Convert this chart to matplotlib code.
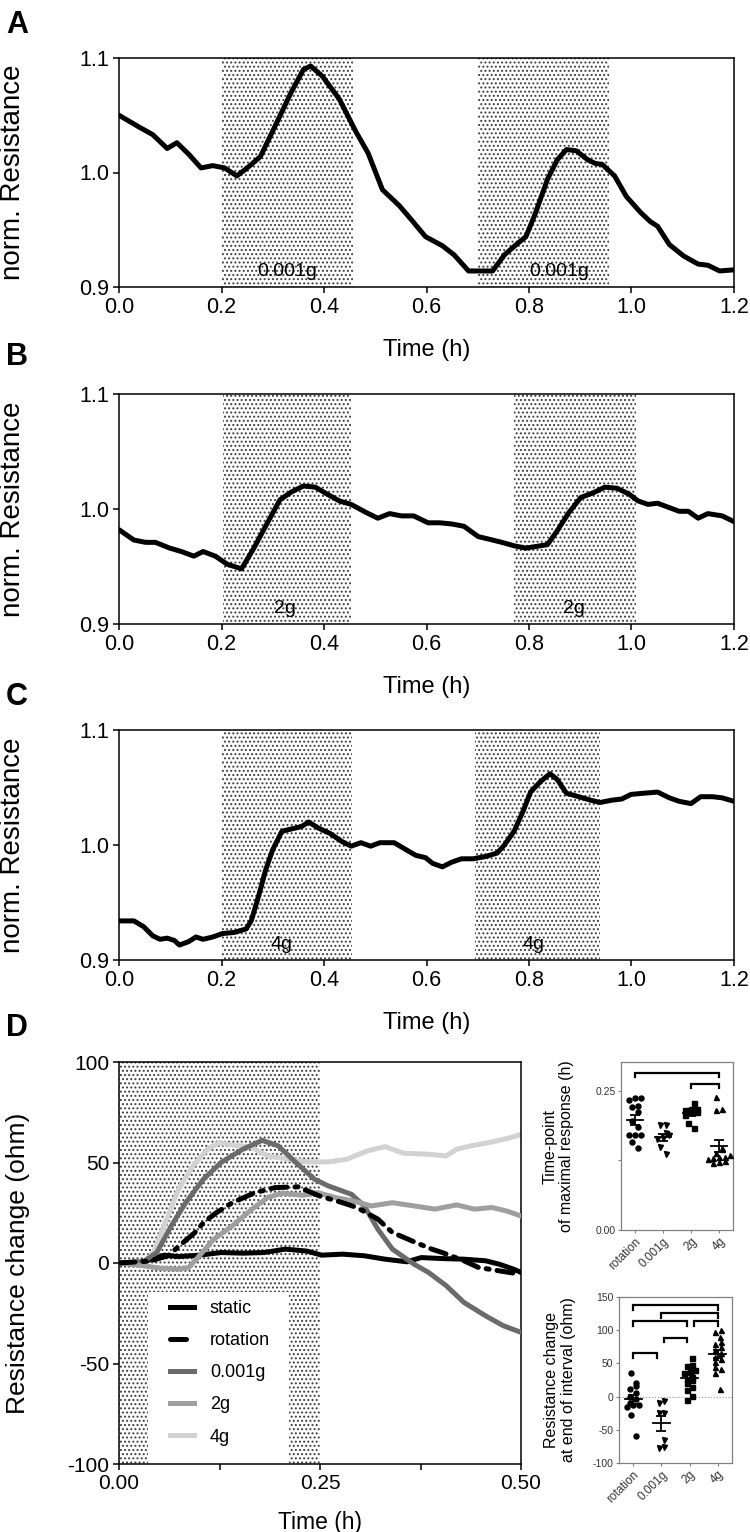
import numpy as np
import matplotlib
matplotlib.use('Agg')
import matplotlib.pyplot as plt
from matplotlib.patches import Rectangle

plt.rcParams['font.family'] = ['Liberation Sans', 'DejaVu Sans']
plt.rcParams['axes.unicode_minus'] = False
plt.rcParams['hatch.linewidth'] = 0.9
NARROW = ['Liberation Sans Narrow', 'Liberation Sans', 'DejaVu Sans']

# ---------------- Panel A-C data ----------------
tA = [0.0, 0.038, 0.066, 0.094, 0.113, 0.136, 0.16, 0.183, 0.206, 0.23, 0.253, 0.276, 0.304, 0.337, 0.36,
      0.374, 0.397, 0.43, 0.463, 0.486, 0.514, 0.547, 0.57, 0.598, 0.631, 0.654, 0.682, 0.701, 0.729, 0.752,
      0.775, 0.794, 0.813, 0.836, 0.855, 0.873, 0.892, 0.915, 0.929, 0.943, 0.967, 0.99, 1.018, 1.037, 1.051,
      1.074, 1.102, 1.13, 1.149, 1.172, 1.2]
rA = [1.050, 1.040, 1.033, 1.021, 1.026, 1.016, 1.004, 1.006, 1.004, 0.997, 1.005, 1.014, 1.040, 1.071, 1.090,
      1.093, 1.084, 1.064, 1.035, 1.017, 0.985, 0.971, 0.959, 0.944, 0.936, 0.928, 0.914, 0.914, 0.914, 0.928,
      0.937, 0.944, 0.965, 0.994, 1.011, 1.020, 1.019, 1.011, 1.008, 1.007, 0.997, 0.979, 0.965, 0.957, 0.953,
      0.937, 0.927, 0.920, 0.919, 0.914, 0.915]

tB = [0.0, 0.029, 0.052, 0.071, 0.099, 0.122, 0.146, 0.164, 0.188, 0.211, 0.239, 0.262, 0.286, 0.314, 0.337,
      0.36, 0.383, 0.406, 0.43, 0.453, 0.482, 0.505, 0.528, 0.551, 0.575, 0.603, 0.626, 0.649, 0.673, 0.701,
      0.729, 0.747, 0.771, 0.794, 0.836, 0.855, 0.878, 0.901, 0.925, 0.948, 0.972, 0.995, 1.013, 1.032, 1.051,
      1.069, 1.093, 1.111, 1.13, 1.149, 1.177, 1.2]
rB = [0.982, 0.973, 0.971, 0.971, 0.966, 0.963, 0.959, 0.963, 0.959, 0.952, 0.948, 0.965, 0.985, 1.008, 1.015,
      1.020, 1.019, 1.013, 1.007, 1.004, 0.997, 0.992, 0.996, 0.994, 0.994, 0.988, 0.988, 0.987, 0.985, 0.976,
      0.973, 0.971, 0.968, 0.966, 0.969, 0.981, 0.997, 1.010, 1.014, 1.019, 1.018, 1.013, 1.007, 1.004, 1.005,
      1.002, 0.998, 0.998, 0.992, 0.996, 0.994, 0.989]

tC = [0.0, 0.029, 0.048, 0.066, 0.08, 0.094, 0.108, 0.118, 0.136, 0.15, 0.164, 0.183, 0.202, 0.225, 0.248,
      0.258, 0.272, 0.286, 0.3, 0.318, 0.337, 0.356, 0.37, 0.388, 0.412, 0.435, 0.453, 0.472, 0.491, 0.509,
      0.537, 0.556, 0.579, 0.598, 0.612, 0.631, 0.649, 0.668, 0.691, 0.715, 0.738, 0.752, 0.771, 0.789, 0.803,
      0.822, 0.841, 0.855, 0.873, 0.897, 0.92, 0.939, 0.962, 0.981, 0.999, 1.023, 1.051, 1.074, 1.093, 1.116,
      1.135, 1.158, 1.177, 1.2]
rC = [0.934, 0.934, 0.929, 0.921, 0.918, 0.919, 0.917, 0.913, 0.916, 0.920, 0.918, 0.920, 0.923, 0.924, 0.927,
      0.934, 0.955, 0.978, 0.996, 1.012, 1.014, 1.016, 1.020, 1.015, 1.010, 1.003, 0.999, 1.002, 0.999, 1.002,
      1.002, 0.997, 0.991, 0.989, 0.984, 0.981, 0.985, 0.988, 0.988, 0.990, 0.993, 1.000, 1.012, 1.030, 1.046,
      1.055, 1.062, 1.057, 1.045, 1.042, 1.039, 1.037, 1.039, 1.040, 1.044, 1.045, 1.046, 1.041, 1.038, 1.036,
      1.042, 1.042, 1.041, 1.038]

intervalsA = [(0.200, 0.456), (0.701, 0.956)]
intervalsB = [(0.202, 0.452), (0.771, 1.009)]
intervalsC = [(0.200, 0.455), (0.694, 0.939)]
labelA, labelB, labelC = '0.001g', '2g', '4g'
labelxA = [0.328, 0.858]
labelxB = [0.323, 0.887]
labelxC = [0.318, 0.808]

# ---------------- Panel D data ----------------
t_static = [0, 0.03, 0.047, 0.056, 0.074, 0.1, 0.127, 0.154, 0.18, 0.207, 0.234, 0.252, 0.278, 0.305, 0.331,
            0.358, 0.376, 0.402, 0.429, 0.456, 0.473, 0.491, 0.5]
v_static = [0, 0.5, 2.7, 3.9, 3.2, 3.9, 5.2, 4.9, 5.2, 6.9, 5.9, 3.9, 4.4, 3.6, 1.9, 0.6, 2.7, 2.2, 1.9, 1.1,
            -0.6, -3.1, -4.7]
t_rot = [0, 0.039, 0.061, 0.079, 0.094, 0.105, 0.121, 0.141, 0.169, 0.194, 0.223, 0.249, 0.278, 0.296, 0.322,
         0.34, 0.369, 0.389, 0.402, 0.429, 0.447, 0.473, 0.498]
v_rot = [0, 1, 3.6, 9.9, 15, 20, 25, 30, 35, 37.5, 37.9, 33.4, 30, 27.6, 21.8, 15.2, 10.2, 6.9, 5.2, 1.1, -2.2,
         -3.9, -5.5]
t_001 = [0, 0.03, 0.047, 0.065, 0.083, 0.105, 0.127, 0.154, 0.178, 0.198, 0.22, 0.243, 0.26, 0.289, 0.305,
         0.322, 0.34, 0.367, 0.385, 0.407, 0.429, 0.456, 0.478, 0.5]
v_001 = [0, 0.6, 5.2, 18.5, 30, 41.7, 50, 56.6, 61, 58.3, 50, 41.7, 38.4, 34.2, 28.4, 16.8, 6.9, -0.6, -4.7,
         -11.3, -19.6, -26.3, -31.2, -34.5]
t_2g = [0, 0.03, 0.052, 0.074, 0.087, 0.1, 0.118, 0.141, 0.163, 0.185, 0.203, 0.229, 0.247, 0.269, 0.291, 0.314,
        0.34, 0.367, 0.393, 0.42, 0.442, 0.464, 0.482, 0.5]
v_2g = [0, -1.4, -2.6, -3.1, -2.2, 3.6, 11.9, 18.5, 26, 32.6, 34.7, 33.7, 35, 32.6, 30.9, 28.4, 30, 28.4, 26.8,
        28.9, 26.8, 27.6, 25.9, 23.4]
t_4g = [0, 0.03, 0.043, 0.056, 0.074, 0.092, 0.11, 0.125, 0.141, 0.163, 0.185, 0.207, 0.234, 0.26, 0.283, 0.309,
        0.331, 0.354, 0.385, 0.407, 0.42, 0.438, 0.464, 0.487, 0.5]
v_4g = [0, 0.2, 5.2, 18.5, 36.7, 48.3, 56.6, 59.9, 58.6, 57.9, 53.3, 51.9, 50.3, 50.3, 51.6, 55.8, 57.9, 54.6,
        54.1, 53.3, 56.6, 58.3, 60.2, 62.4, 64]
intervalD = (0.0, 0.25)

# ---------------- Small panels data ----------------
groups = ['rotation', '0.001g', '2g', '4g']
tmax_rot = [0.238, 0.238, 0.2345, 0.2225, 0.221, 0.212, 0.196, 0.186, 0.170, 0.170, 0.170, 0.158, 0.148]
tmax_001 = [0.188, 0.188, 0.174, 0.170, 0.166, 0.164, 0.150, 0.136]
tmax_2g = [0.229, 0.218, 0.217, 0.212, 0.212, 0.215, 0.206, 0.193, 0.184]
tmax_4g = [0.239, 0.218, 0.2155, 0.147, 0.145, 0.138, 0.135, 0.132, 0.132, 0.129, 0.128, 0.124, 0.122, 0.120]
end_rot = [36, 20, 16, 12, 5, 0, -4, -9, -12, -12, -16, -28, -59]
end_001 = [-7, -9, -24, -25, -65, -76, -77]
end_2g = [58, 48, 46, 40, 39, 35, 30, 27, 25, 20, 15, 10, 1, -5]
end_4g = [100, 98, 90, 82, 79, 75, 70, 65, 60, 56, 52, 45, 41, 35, 11]
markers = ['o', 'v', 's', '^']
# significance brackets: (group_from, group_to, height)
brackets_tmax = [(0, 3, 0.283), (2, 3, 0.263)]
brackets_end = [(0, 3, 137.5), (1, 3, 126), (0, 1.92, 113.5), (2.15, 3, 113.5), (1.08, 1.92, 89), (0, 0.85, 65)]

# ---------------- Figure ----------------
W, H = 750, 1532
fig = plt.figure(figsize=(W / 100, H / 100), dpi=100)


def rect(x0, y0, x1, y1):
    return [x0 / W, 1 - y1 / H, (x1 - x0) / W, (y1 - y0) / H]


DOT = '#3a3a3a'


def line_panel(r, t, v, intervals, lab, labx, letter, letter_y):
    ax = fig.add_axes(r)
    for (a, b), lx in zip(intervals, labx):
        ax.axvspan(a, b, facecolor='white', edgecolor=DOT, hatch='....', lw=0, zorder=0)
        ax.text(lx, 0.9135, lab, ha='center', va='center', fontsize=14, family=NARROW, zorder=2)
    ax.plot(t, v, color='black', lw=3.6, solid_joinstyle='round', solid_capstyle='round', zorder=3)
    ax.set_xlim(0, 1.2)
    ax.set_ylim(0.9, 1.1)
    ax.set_xticks(np.arange(0, 1.21, 0.2))
    ax.set_xticklabels(['%.1f' % x for x in np.arange(0, 1.21, 0.2)], family=NARROW)
    ax.set_yticks([0.9, 1.0, 1.1])
    ax.set_yticklabels(['0.9', '1.0', '1.1'], family=NARROW)
    ax.tick_params(labelsize=15.5, length=4, width=1.1, direction='out', pad=3)
    for s in ax.spines.values():
        s.set_linewidth(1.1)
    ax.set_ylabel('norm. Resistance', fontsize=20)
    ax.yaxis.set_label_coords(-0.151, 0.5)
    ax.set_xlabel('Time (h)', fontsize=17, family=NARROW)
    ax.xaxis.set_label_coords(0.5, -0.228)
    fig.text(17 / W, 1 - letter_y / H, letter, fontsize=22, fontweight='bold', ha='center', va='center')
    return ax


line_panel(rect(119, 58, 734, 287), tA, rA, intervalsA, labelA, labelxA, 'A', 25)
line_panel(rect(119, 394, 734, 624), tB, rB, intervalsB, labelB, labelxB, 'B', 357)
line_panel(rect(119, 730, 734, 960), tC, rC, intervalsC, labelC, labelxC, 'C', 697)

# ---------------- Panel D main ----------------
axD = fig.add_axes(rect(119, 1062, 521, 1464))
axD.axvspan(*intervalD, facecolor='white', edgecolor=DOT, hatch='....', lw=0, zorder=0)
lw = 3.6
axD.plot(t_static, v_static, color='black', lw=lw, label='static', zorder=3)
axD.plot(t_rot, v_rot, color='black', lw=lw, dashes=(3.2, 1.6, 0.6, 1.6), dash_capstyle='round',
         label='rotation', zorder=4)
axD.plot(t_001, v_001, color='#6b6b6b', lw=lw, label='0.001g', zorder=3)
axD.plot(t_2g, v_2g, color='#9f9f9f', lw=lw, label='2g', zorder=3)
axD.plot(t_4g, v_4g, color='#d2d2d2', lw=lw, label='4g', zorder=2)
axD.set_xlim(0, 0.5)
axD.set_ylim(-100, 100)
axD.set_xticks([0, 0.25, 0.5])
axD.set_xticklabels(['0.00', '0.25', '0.50'])
axD.set_xticks([0.125, 0.375], minor=True)
axD.set_yticks([-100, -50, 0, 50, 100])
axD.set_yticklabels(['-100', '-50', '0', '50', '100'])
axD.tick_params(which='both', labelsize=15, length=4, width=1.1, direction='out', pad=3)
for s in axD.spines.values():
    s.set_linewidth(1.1)
axD.set_ylabel('Resistance change (ohm)', fontsize=19)
axD.yaxis.set_label_coords(-0.221, 0.5)
axD.set_xlabel('Time (h)', fontsize=16.5)
axD.xaxis.set_label_coords(0.5, -0.118)
# white legend background box
axD.add_patch(Rectangle((0.072, 0.0), 0.351, 0.428, transform=axD.transAxes, facecolor='white',
                        edgecolor='none', zorder=1.5))
leg = axD.legend(loc='upper left', bbox_to_anchor=(0.127, 0.408), borderaxespad=0, fontsize=13,
                 frameon=False, handlelength=1.35, handletextpad=0.85, labelspacing=0.84, borderpad=0)
leg.set_zorder(5)
fig.text(17 / W, 1 - 1028 / H, 'D', fontsize=22, fontweight='bold', ha='center', va='center')

# ---------------- Small panels ----------------
GREY = '#808080'


def swarm(vals, tol, step):
    vals = np.asarray(vals, float)
    order = np.argsort(vals)
    offs = np.zeros(len(vals))
    clusters, cur = [], [order[0]]
    for i in order[1:]:
        if vals[i] - vals[cur[0]] < tol:
            cur.append(i)
        else:
            clusters.append(cur)
            cur = [i]
    clusters.append(cur)
    side = 1
    for c in clusters:
        n = len(c)
        if n == 1:
            offs[c[0]] = 0.09 * side
            side = -side
        else:
            for k, i in enumerate(c):
                offs[i] = (k - (n - 1) / 2) * step
    return offs


def dot_panel(r, data, tol, brackets, bdrop, ylim, yticks, yticklabels, ylabel, lab_x, zero_line=False):
    ax = fig.add_axes(r)
    for gi, (vals, m) in enumerate(zip(data, markers)):
        offs = swarm(vals, tol, 0.2)
        ax.plot(gi + offs, vals, ls='none', marker=m, ms=3.6, color='black', mec='black', zorder=3)
        mean = np.mean(vals)
        sem = np.std(vals, ddof=1) / np.sqrt(len(vals))
        ax.plot([gi - 0.3, gi + 0.3], [mean, mean], color='black', lw=1.3, zorder=4)
        ax.errorbar([gi], [mean], yerr=[sem], color='black', lw=1.3, capsize=3.5, capthick=1.3, zorder=4)
    for a, b, h in brackets:
        ax.plot([a, a, b, b], [h - bdrop, h, h, h - bdrop], color='black', lw=1.6,
                solid_joinstyle='miter', zorder=4)
    if zero_line:
        ax.axhline(0, color='#999999', lw=0.8, ls=':', zorder=1)
    ax.set_xlim(-0.5, 3.5)
    ax.set_ylim(*ylim)
    ax.set_xticks(range(len(groups)))
    ax.set_xticklabels(groups, rotation=45, ha='right', rotation_mode='anchor', fontsize=8.5, color='#333333')
    ax.set_yticks(yticks)
    ax.set_yticklabels(yticklabels, fontsize=7.5, color='#333333')
    ax.tick_params(length=2.5, width=0.8, color=GREY, pad=1.5)
    for s in ax.spines.values():
        s.set_linewidth(0.9)
        s.set_color(GREY)
    ax.set_ylabel(ylabel, fontsize=11.5, linespacing=1.15)
    ax.yaxis.set_label_coords(lab_x, 0.5)
    return ax


dot_panel(rect(621, 1062, 733, 1230), [tmax_rot, tmax_001, tmax_2g, tmax_4g], 0.008, brackets_tmax, 0.008,
          (0, 0.302), [0, 0.125, 0.25], ['0.00', '', '0.25'],
          'Time-point\nof maximal response (h)', -0.42)
dot_panel(rect(619, 1297, 732, 1463), [end_rot, end_001, end_2g, end_4g], 7.0, brackets_end, 7,
          (-100, 150), [-100, -50, 0, 50, 100, 150], ['-100', '-50', '0', '50', '100', '150'],
          'Resistance change\nat end of interval (ohm)', -0.38, zero_line=True)

fig.savefig('out.png', dpi=100)
